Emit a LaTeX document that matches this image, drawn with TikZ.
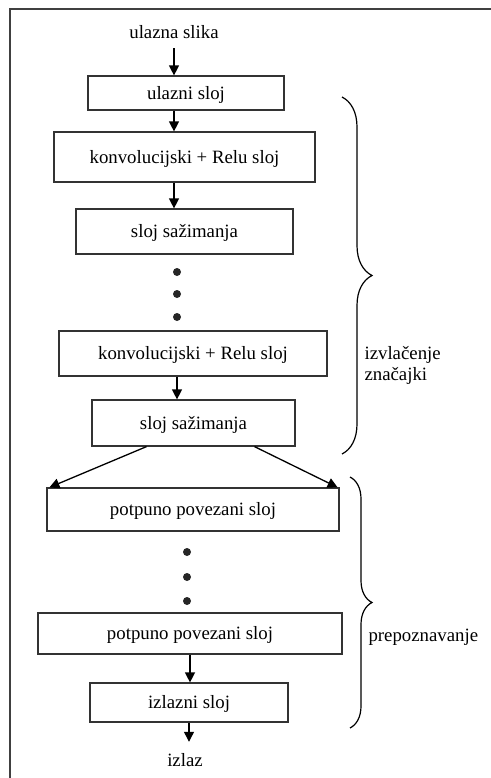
\documentclass[tikz,border=0pt]{standalone}
\usepackage{fontspec}
\setmainfont{Liberation Serif}
\usetikzlibrary{arrows.meta,decorations.pathreplacing}

\begin{document}
\begin{tikzpicture}[x=1pt,y=-1pt,text depth=1pt,%
  font=\fontsize{18.8}{21}\selectfont,%
  netlayer/.style={draw=black!80,line width=1.2pt,inner sep=0pt},%
  flow/.style={-{Triangle[length=10pt,width=10pt]},line width=1.3pt},%
  gap dot/.style={circle,fill=black!85,inner sep=0pt,minimum size=8pt},%
  side brace/.style={decorate,decoration={brace,amplitude=#1},line width=1.2pt}]

  \useasboundingbox (0,0) rectangle (490,778);
  \draw [line width=1.5pt,black!75] (492,9) -- (10,9) -- (10,780);

  % layers
  \node (inimg) [inner ysep=9pt] at (174,32) {ulazna slika};
  \node [netlayer,minimum width=196pt,minimum height=34pt] (ulaz) at (186,93) {ulazni sloj};
  \node [netlayer,minimum width=261pt,minimum height=50pt] (conv1) at (184.5,157) {konvolucijski + Relu sloj};
  \node [netlayer,minimum width=217pt,minimum height=45pt] (pool1) at (184.5,231.5) {sloj sažimanja};
  \node [netlayer,minimum width=268pt,minimum height=45pt] (conv2) at (193,353.5) {konvolucijski + Relu sloj};
  \node [netlayer,minimum width=203pt,minimum height=46pt] (pool2) at (193.5,423) {sloj sažimanja};
  \node [netlayer,minimum width=292pt,minimum height=43pt] (fc1) at (193,509.5) {potpuno povezani sloj};
  \node [netlayer,minimum width=304pt,minimum height=41pt] (fc2) at (190,633.5) {potpuno povezani sloj};
  \node [netlayer,minimum width=198pt,minimum height=39pt] (outl) at (189,702.5) {izlazni sloj};
  \node (izlaz) [inner ysep=11pt] at (185,760) {izlaz};

  \foreach \y [count=\i] in {272,294,317}
    \node [gap dot] (featdot\i) at (177,\y) {};
  \foreach \y [count=\i] in {552,577,601}
    \node [gap dot] (fcdot\i) at (187,\y) {};

  \draw [flow] (inimg) -- (inimg |- ulaz.north);
  \draw [flow] (inimg |- ulaz.south) -- (inimg |- conv1.north);
  \draw [flow] (inimg |- conv1.south) -- (inimg |- pool1.north);
  \draw [flow] (featdot1 |- conv2.south) -- (featdot1 |- pool2.north);
  \draw [flow] ([xshift=-47pt]pool2.south) -- ([xshift=3pt]fc1.north west);
  \draw [flow] ([xshift=61pt]pool2.south) -- ([xshift=-2pt]fc1.north east);
  \draw [flow] (fc2.south) -- (fc2.south |- outl.north);
  \draw [flow] (outl.south) -- (outl.south |- izlaz.north);

  % braces
  \coordinate (feattop) at (342,97);
  \coordinate (featbot) at (342,454);
  \coordinate (recogtop) at (350,477);
  \coordinate (recogbot) at (350,728);
  \draw [side brace=30pt] (feattop) -- (featbot);
  \draw [side brace=22pt] (recogtop) -- (recogbot);

  \node [anchor=west,align=left] (featlbl) at (361,364) {izvlačenje\\značajki};
  \node [anchor=west] (recoglbl) at (365,636) {prepoznavanje};
\end{tikzpicture}
\end{document}
